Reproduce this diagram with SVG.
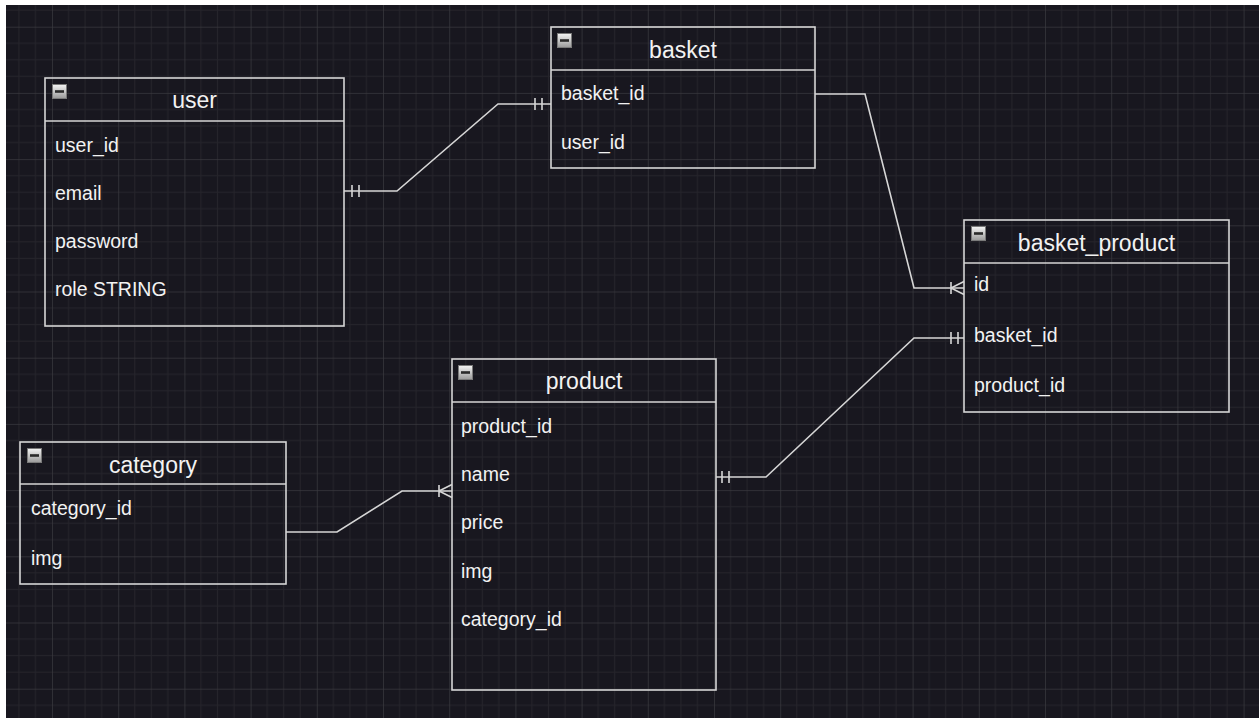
<svg xmlns="http://www.w3.org/2000/svg" width="1259" height="718" viewBox="0 0 1259 718">
  <defs>
    <pattern id="grid" patternUnits="userSpaceOnUse" x="52" y="26.7" width="66.2" height="66.2">
      <rect x="16.05" y="0" width="1" height="66.2" fill="#25242b"/>
      <rect x="32.6" y="0" width="1" height="66.2" fill="#25242b"/>
      <rect x="49.15" y="0" width="1" height="66.2" fill="#25242b"/>
      <rect x="0" y="16.05" width="66.2" height="1" fill="#25242b"/>
      <rect x="0" y="32.6" width="66.2" height="1" fill="#25242b"/>
      <rect x="0" y="49.15" width="66.2" height="1" fill="#25242b"/>
      <rect x="-0.5" y="0" width="1.2" height="66.2" fill="#3a393f"/>
      <rect x="0" y="-0.5" width="66.2" height="1.2" fill="#3a393f"/>
    </pattern>
    <linearGradient id="iconGrad" x1="0" y1="0" x2="0" y2="1">
      <stop offset="0" stop-color="#f4f4f4"/>
      <stop offset="1" stop-color="#9a9a9a"/>
    </linearGradient>
    <g id="icon">
      <rect x="0.5" y="0.5" width="14" height="14" fill="url(#iconGrad)" stroke="#7a7a7a" stroke-width="1"/>
      <rect x="3" y="6.2" width="9" height="2.6" fill="#2a2a2a"/>
    </g>
  </defs>
  <style>
    .box { fill: none; stroke: #d6d6d6; stroke-width: 1.6; }
    .title { font-family: "Liberation Sans", Arial, sans-serif; font-size: 23px; fill: #f2f2f2; text-anchor: middle; }
    .row { font-family: "Liberation Sans", Arial, sans-serif; font-size: 19.5px; fill: #f2f2f2; }
    .conn { fill: none; stroke: #d6d6d6; stroke-width: 1.6; }
  </style>

  <rect x="0" y="0" width="1259" height="718" fill="#ffffff"/>
  <rect x="6" y="5" width="1253" height="713" fill="#18171f"/>
  <rect x="6" y="5" width="1253" height="713" fill="url(#grid)"/>

  <g id="connectors">
    <!-- user.email - basket.basket_id -->
    <path class="conn" d="M344,191 H397 L498,104 H551"/>
    <path class="conn" d="M352,185 V197 M359,185 V197 M535,98 V110 M542,98 V110"/>
    <!-- basket - basket_product.id -->
    <path class="conn" d="M815,94 H865 L914,288 H964"/>
    <path class="conn" d="M951,282 V294 M951,288 L964,281.5 M951,288 L964,294.5"/>
    <!-- product.name - basket_product.basket_id -->
    <path class="conn" d="M716,477 H766 L914,338 H964"/>
    <path class="conn" d="M722,471 V483 M729,471 V483 M951,332 V344 M958,332 V344"/>
    <!-- category - product -->
    <path class="conn" d="M286,532 H337 L402,491 H452"/>
    <path class="conn" d="M439,485 V497 M439,491 L452,484.5 M439,491 L452,497.5"/>
  </g>

  <g id="user">
    <rect class="box" x="45" y="78" width="299" height="248"/>
    <line class="box" x1="45" y1="121" x2="344" y2="121"/>
    <use href="#icon" x="52" y="84"/>
    <text class="title" x="194.5" y="108">user</text>
    <text class="row" x="55" y="152">user_id</text>
    <text class="row" x="55" y="200">email</text>
    <text class="row" x="55" y="248">password</text>
    <text class="row" x="55" y="296">role STRING</text>
  </g>

  <g id="basket">
    <rect class="box" x="551" y="27" width="264" height="141"/>
    <line class="box" x1="551" y1="70" x2="815" y2="70"/>
    <use href="#icon" x="557" y="33"/>
    <text class="title" x="683" y="58">basket</text>
    <text class="row" x="561" y="99.5">basket_id</text>
    <text class="row" x="561" y="149">user_id</text>
  </g>

  <g id="basket_product">
    <rect class="box" x="964" y="220" width="265" height="192"/>
    <line class="box" x1="964" y1="263" x2="1229" y2="263"/>
    <use href="#icon" x="971" y="226"/>
    <text class="title" x="1096.5" y="251">basket_product</text>
    <text class="row" x="974" y="291">id</text>
    <text class="row" x="974" y="342">basket_id</text>
    <text class="row" x="974" y="392">product_id</text>
  </g>

  <g id="category">
    <rect class="box" x="20" y="442" width="266" height="142"/>
    <line class="box" x1="20" y1="484" x2="286" y2="484"/>
    <use href="#icon" x="27" y="448"/>
    <text class="title" x="153" y="473">category</text>
    <text class="row" x="31" y="515">category_id</text>
    <text class="row" x="31" y="565">img</text>
  </g>

  <g id="product">
    <rect class="box" x="452" y="359" width="264" height="331"/>
    <line class="box" x1="452" y1="402" x2="716" y2="402"/>
    <use href="#icon" x="458" y="365"/>
    <text class="title" x="584" y="389">product</text>
    <text class="row" x="461" y="433">product_id</text>
    <text class="row" x="461" y="481">name</text>
    <text class="row" x="461" y="529">price</text>
    <text class="row" x="461" y="578">img</text>
    <text class="row" x="461" y="626">category_id</text>
  </g>
</svg>
